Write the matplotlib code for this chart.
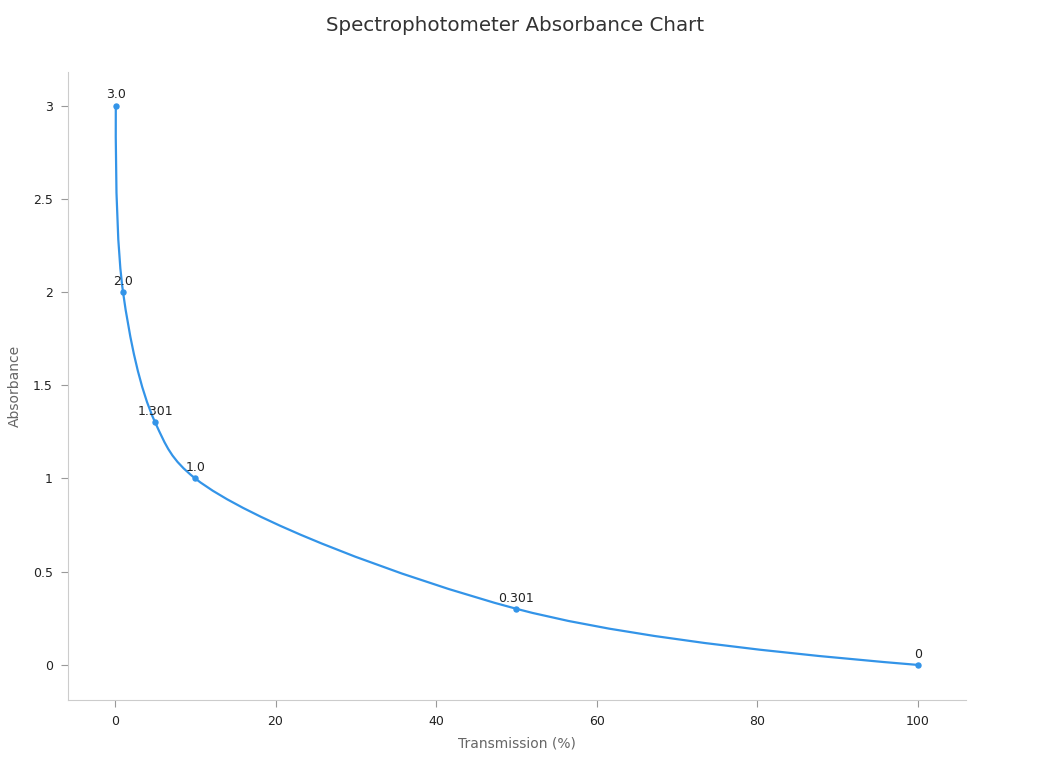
import matplotlib.pyplot as plt
import matplotlib
from matplotlib.path import Path
from matplotlib.patches import PathPatch
import numpy as np

matplotlib.rcParams["font.family"] = 'DejaVu Sans'

transmission = [0.1, 1, 5, 10, 50, 100]
absorbance = [3.0, 2.0, 1.301, 1.0, 0.301, 0]
point_labels = ['3.0', '2.0', '1.301', '1.0', '0.301', '0']

line_color = '#3394E8'


def make_tangent(prev, this, nxt, smooth=1.0):
    # plotly-style catmull-rom tangent (in pixel space)
    d1 = prev - this
    d2 = nxt - this
    d1a = np.hypot(*d1) ** 0.5
    d2a = np.hypot(*d2) ** 0.5
    num = (d2a * d2a * d1 - d1a * d1a * d2) * smooth
    den1 = d2a * (d1a + d2a) * 3
    den2 = d1a * (d1a + d2a) * 3
    return this + num / den1, this - num / den2


def smooth_path(pts):
    tang = [make_tangent(pts[i - 1], pts[i], pts[i + 1]) for i in range(1, len(pts) - 1)]
    verts = [pts[0], tang[0][0], pts[1]]
    codes = [Path.MOVETO, Path.CURVE3, Path.CURVE3]
    for i in range(2, len(pts) - 1):
        verts += [tang[i - 2][1], tang[i - 1][0], pts[i]]
        codes += [Path.CURVE4] * 3
    verts += [tang[-1][1], pts[-1]]
    codes += [Path.CURVE3] * 2
    return Path(np.array(verts), codes)


fig = plt.figure(figsize=(10.63, 7.63), dpi=100)
ax = fig.add_axes([0.064, 0.0826, 0.8447, 0.823])
ax.set_xlim(-5.85, 106)
ax.set_ylim(-0.188, 3.18)

# smooth line through the points, computed in display space
disp = ax.transData.transform(np.column_stack([transmission, absorbance]))
path_disp = smooth_path(disp)
path_data = Path(ax.transData.inverted().transform(path_disp.vertices), path_disp.codes)
ax.add_patch(PathPatch(path_data, facecolor='none', edgecolor=line_color, lw=1.6))
ax.plot(transmission, absorbance, 'o', color=line_color, ms=3.6)

for x, y, t in zip(transmission, absorbance, point_labels):
    ax.annotate(t, (x, y), xytext=(0, 3), textcoords='offset points',
                ha='center', va='bottom', fontsize=9, color='#222222')

ax.set_xticks([0, 20, 40, 60, 80, 100])
ax.set_yticks([0, 0.5, 1, 1.5, 2, 2.5, 3])
ax.set_yticklabels(['0', '0.5', '1', '1.5', '2', '2.5', '3'])
ax.tick_params(labelsize=9, colors='#999999', labelcolor='#222222', length=5, pad=6)
for s in ['top', 'right']:
    ax.spines[s].set_visible(False)
for s in ['left', 'bottom']:
    ax.spines[s].set_color('#cccccc')

ax.set_xlabel('Transmission (%)', fontsize=10, color='#666666', labelpad=6)
ax.set_ylabel('Absorbance', fontsize=10, color='#666666', labelpad=8)
fig.text(0.4845, 0.966, 'Spectrophotometer Absorbance Chart', ha='center', va='center',
         fontsize=14.3, color='#333333')

plt.savefig('out.png')
